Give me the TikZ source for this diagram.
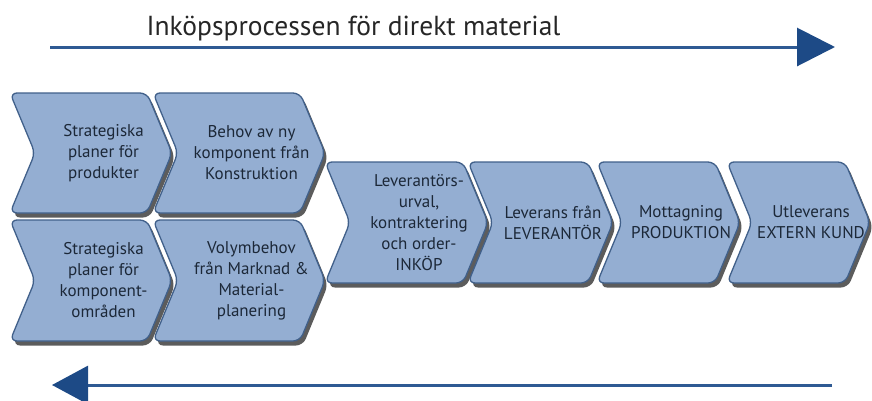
\documentclass[tikz,border=0pt]{standalone}
\usepackage{fontspec}
\setmainfont{PT Sans}
\usetikzlibrary{arrows.meta}

\definecolor{chevfill}{HTML}{94AED2}
\definecolor{chevedge}{HTML}{41608A}
\definecolor{chevink}{HTML}{1C2838}
\definecolor{flowblue}{HTML}{2F5A93}
\definecolor{headblue}{HTML}{1D4A86}

\tikzset{
  chevshadow/.style={fill=black!75, opacity=.85, rounded corners=7pt},
  chevbody/.style={fill=chevfill, draw=chevedge, line width=1.3pt, rounded corners=7pt},
  chevtext/.style={align=center, text=chevink, inner sep=0pt,
    font=\fontsize{17}{21}\selectfont},
  titletext/.style={text=black!85, inner sep=0pt, font=\fontsize{27.5}{32}\selectfont},
  flowline/.style={draw=flowblue, line width=3pt},
}

% chevron: name, left x, top y, top edge length, height, label
\newcommand{\chevronbox}[6]{%
  \pgfmathsetmacro{\xa}{#2}\pgfmathsetmacro{\ya}{#3}%
  \pgfmathsetmacro{\xb}{#2+#4}\pgfmathsetmacro{\xc}{#2+#4+25}%
  \pgfmathsetmacro{\xn}{#2+25}\pgfmathsetmacro{\xt}{#2+25+#4/2}%
  \pgfmathsetmacro{\yb}{#3+#5/2}\pgfmathsetmacro{\yc}{#3+#5}%
  \fill[chevshadow, shift={(3,4.5)}] (\xa,\ya) -- (\xb,\ya) -- (\xc,\yb) -- (\xb,\yc) -- (\xa,\yc) -- (\xn,\yb) -- cycle;
  \draw[chevbody] (\xa,\ya) -- (\xb,\ya) -- (\xc,\yb) -- (\xb,\yc) -- (\xa,\yc) -- (\xn,\yb) -- cycle;
  \node[chevtext] (#1) at (\xt,\yb) {#6};
}

\begin{document}
\begin{tikzpicture}[x=1pt, y=-1pt]
\useasboundingbox (0,0) rectangle (872,400);
\clip (0,0) rectangle (872,400);

% title and forward flow arrow
\node[titletext, anchor=base] (title) at (353.5,35) {Inköpsprocessen för direkt material};
\coordinate (fwdstart) at (50,47);
\coordinate (fwdend) at (835,47);
\draw[flowline, -{Triangle[length=38pt, width=38pt, color=headblue]}] (fwdstart) -- (fwdend);

% upstream planning steps
\chevronbox{planprod}{10}{93}{137}{120}{Strategiska\\planer för\\produkter}
\chevronbox{newcomp}{153}{93}{147}{120}{Behov av ny\\komponent från\\Konstruktion}
\chevronbox{plancomp}{10}{220}{137}{121}{Strategiska\\planer för\\komponent-\\områden}
\chevronbox{volume}{153}{220}{147}{121}{Volymbehov\\från Marknad \&\\Material-\\planering}

% main flow
\chevronbox{purchase}{325}{162}{138}{121}{Leverantörs-\\urval,\\kontraktering\\och order-\\INKÖP}
\chevronbox{delivery}{468}{162}{120}{121}{Leverans från\\LEVERANTÖR}
\chevronbox{receive}{597}{162}{118}{121}{Mottagning\\PRODUKTION}
\chevronbox{ship}{727}{162}{118}{121}{Utleverans\\EXTERN KUND}

% return flow arrow
\coordinate (backstart) at (832,385);
\coordinate (backend) at (52,385);
\draw[flowline, -{Triangle[length=36pt, width=38pt, color=headblue]}] (backstart) -- (backend);
\end{tikzpicture}
\end{document}
